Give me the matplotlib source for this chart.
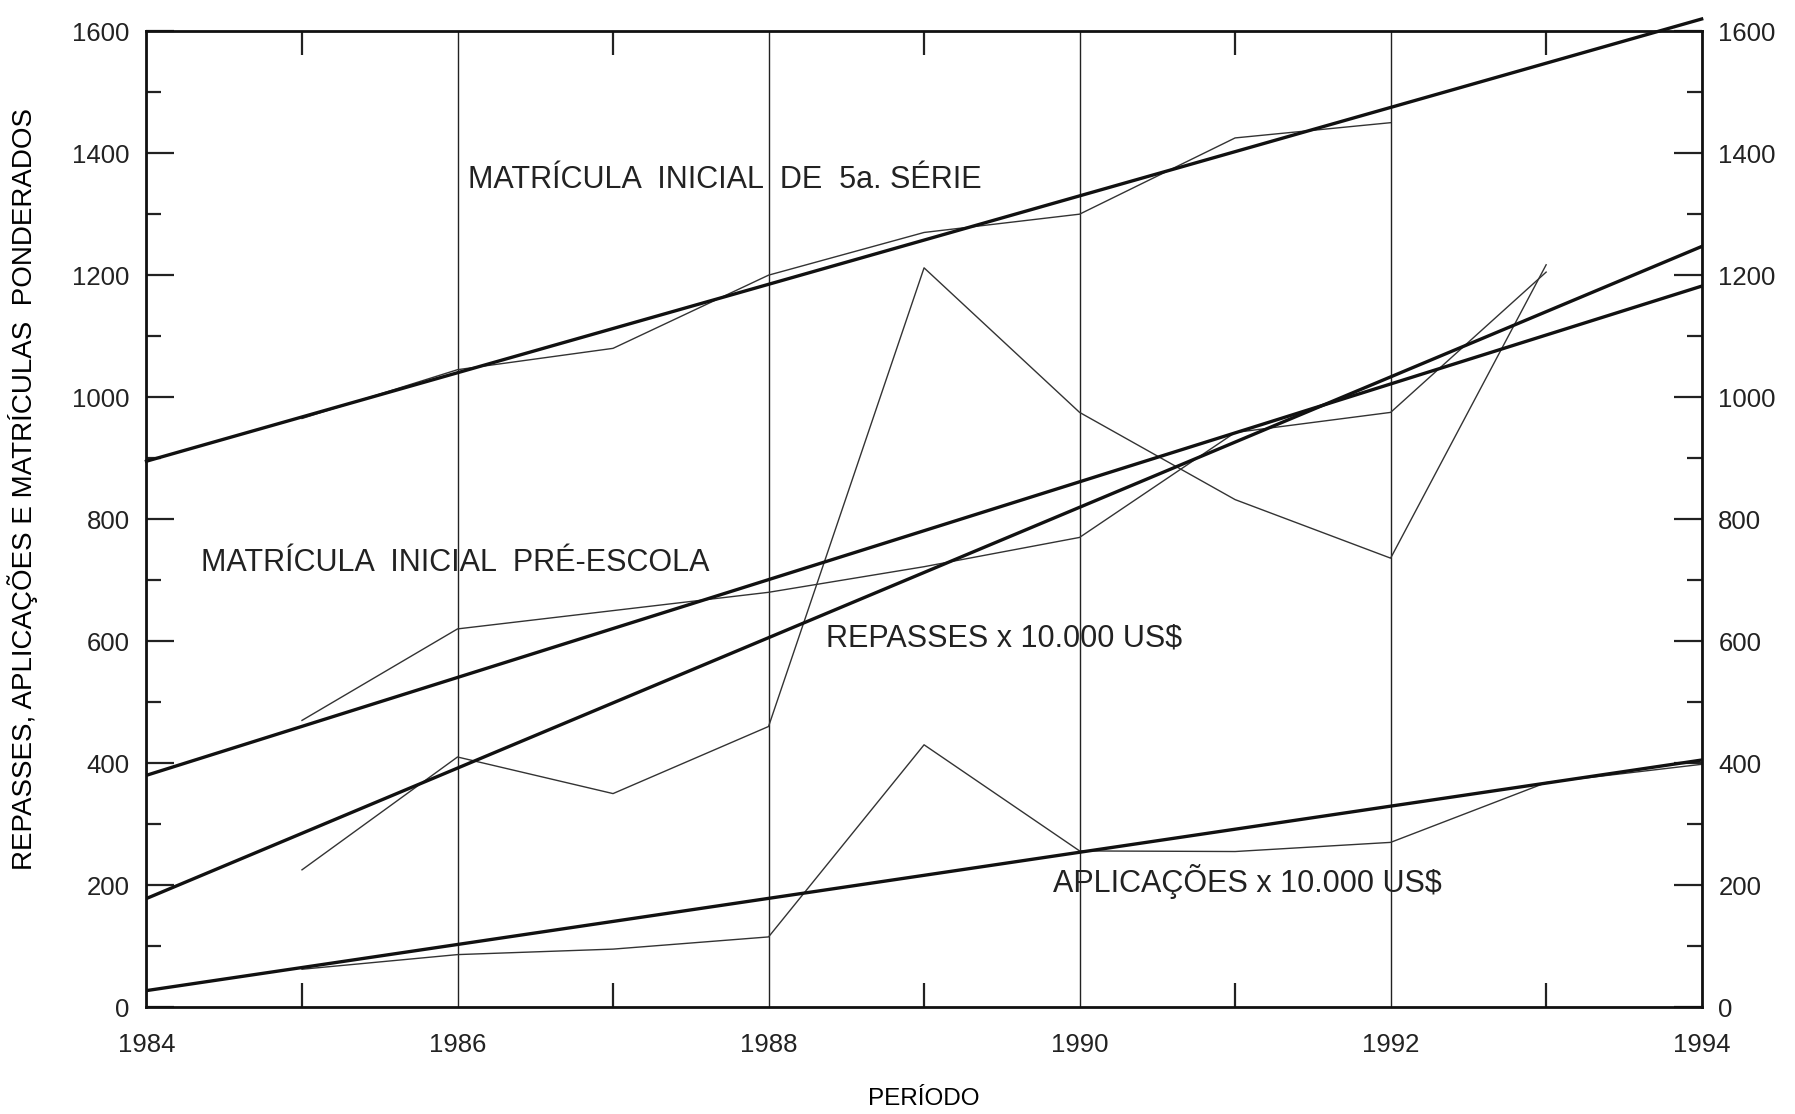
import numpy as np
import matplotlib
matplotlib.use("Agg")
import matplotlib.pyplot as plt
from matplotlib.ticker import MultipleLocator

# observed series (yearly values)
years_5a = [1985, 1986, 1987, 1988, 1989, 1990, 1991, 1992]
serie_5a = [965, 1045, 1080, 1200, 1270, 1300, 1425, 1450]

years = [1985, 1986, 1987, 1988, 1989, 1990, 1991, 1992, 1993]
pre_escola = [470, 620, 650, 680, 722, 770, 942, 975, 1205]
repasses = [225, 410, 350, 460, 1212, 975, 832, 736, 1217]

years_apl = [1985, 1986, 1987, 1988, 1989, 1990, 1991, 1992, 1993, 1994]
aplicacoes = [62, 86, 95, 115, 430, 256, 255, 270, 368, 398]

# trend lines (start/end values at 1984 and 1994)
trend_years = [1984, 1994]
trend_5a = [895, 1620]
trend_pre = [380, 1182]
trend_rep = [178, 1247]
trend_apl = [27, 405]

labels = [
    ("MATRÍCULA  INICIAL  DE  5a. SÉRIE", 1986.07, 1356),
    ("MATRÍCULA  INICIAL  PRÉ-ESCOLA", 1984.35, 728),
    ("REPASSES x 10.000 US$", 1988.37, 604),
    ("APLICAÇÕES x 10.000 US$", 1989.83, 206),
]

plt.rcParams['font.family'] = ['Liberation Sans', 'DejaVu Sans']

fig = plt.figure(figsize=(17.95, 11.14), dpi=100)
ax = fig.add_axes([0.0816, 0.096, 0.8664, 0.876])

thin = dict(color='#333333', lw=1.0)
thick = dict(color='#111111', lw=2.4)

ax.plot(years_5a, serie_5a, **thin)
ax.plot(years, pre_escola, **thin)
ax.plot(years, repasses, **thin)
ax.plot(years_apl, aplicacoes, **thin)

ax.plot(trend_years, trend_5a, clip_on=False, **thick)
ax.plot(trend_years, trend_pre, **thick)
ax.plot(trend_years, trend_rep, **thick)
ax.plot(trend_years, trend_apl, **thick)

for text, x, y in labels:
    ax.text(x, y, text, fontsize=22, va='center', ha='left', color='#222222')

ax.set_xlim(1984, 1994)
ax.set_ylim(0, 1600)

ax.xaxis.set_major_locator(MultipleLocator(2))
ax.xaxis.set_minor_locator(MultipleLocator(1))
ax.yaxis.set_major_locator(MultipleLocator(200))
ax.yaxis.set_minor_locator(MultipleLocator(100))

ax.grid(axis='x', which='major', color='#222222', lw=1.0)

ax.tick_params(axis='both', which='both', direction='in', top=True, right=True,
               labelright=True, labelsize=18.5, colors='#222222', width=1.6)
ax.tick_params(axis='y', which='major', length=20, pad=12)
ax.tick_params(axis='y', which='minor', length=11)
ax.tick_params(axis='x', which='major', length=0, pad=19)
ax.tick_params(axis='x', which='minor', length=17)

for s in ax.spines.values():
    s.set_linewidth(2.0)
    s.set_color('#111111')

ax.set_xlabel('PERÍODO', fontsize=17.5, labelpad=22)
ax.set_ylabel('REPASSES, APLICAÇÕES E MATRÍCULAS  PONDERADOS', fontsize=20)
ax.yaxis.set_label_coords(-0.07, 0.531)

fig.savefig('out.png', dpi=100)
